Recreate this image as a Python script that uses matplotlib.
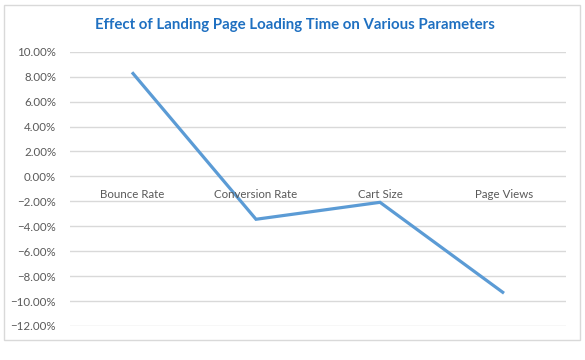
import matplotlib
matplotlib.use("Agg")
import matplotlib.pyplot as plt
from matplotlib.patches import Rectangle
from matplotlib.ticker import PercentFormatter

# data
categories = ["Bounce Rate", "Conversion Rate", "Cart Size", "Page Views"]
effect = [8.35, -3.44, -2.08, -9.37]
yticks = [10, 8, 6, 4, 2, 0, -2, -4, -6, -8, -10, -12]

plt.rcParams['font.family'] = ['Lato', 'DejaVu Sans']
grey = '#595959'

fig = plt.figure(figsize=(5.85, 3.6), dpi=100)
ax = fig.add_axes([70/585, 1-326/360, 496/585, (326-51.7)/360])

x = list(range(len(categories)))
ax.plot(x, effect, color='#5B9BD5', linewidth=2.3, solid_capstyle='butt', solid_joinstyle='miter', zorder=3)

ax.set_xlim(-0.5, len(categories)-0.5)
ax.set_ylim(min(yticks), max(yticks))
ax.set_yticks(yticks)
ax.yaxis.set_major_formatter(PercentFormatter(decimals=2))
ax.tick_params(axis='y', length=0, labelsize=8.3, labelcolor=grey, pad=10)
ax.set_xticks([])
ax.grid(axis='y', color='#D9D9D9', linewidth=1)
ax.set_axisbelow(True)
for s in ax.spines.values():
    s.set_visible(False)

# category labels sit just below the zero line, as in Excel
for i, c in enumerate(categories):
    ax.annotate(c, (i, 0), xytext=(0, -13.4), textcoords='offset points',
                ha='center', va='center', fontsize=8.3, color=grey)

fig.text(295/585, 1-25/360, "Effect of Landing Page Loading Time on Various Parameters",
         ha='center', va='center', fontsize=10.8, fontweight='bold', color='#1F70C1')

fig.patches.append(Rectangle((4/585, 1-340/360), 576/585, 335/360, transform=fig.transFigure,
                             fill=False, edgecolor='#D9D9D9', linewidth=1))

fig.savefig("out.png", dpi=100)
